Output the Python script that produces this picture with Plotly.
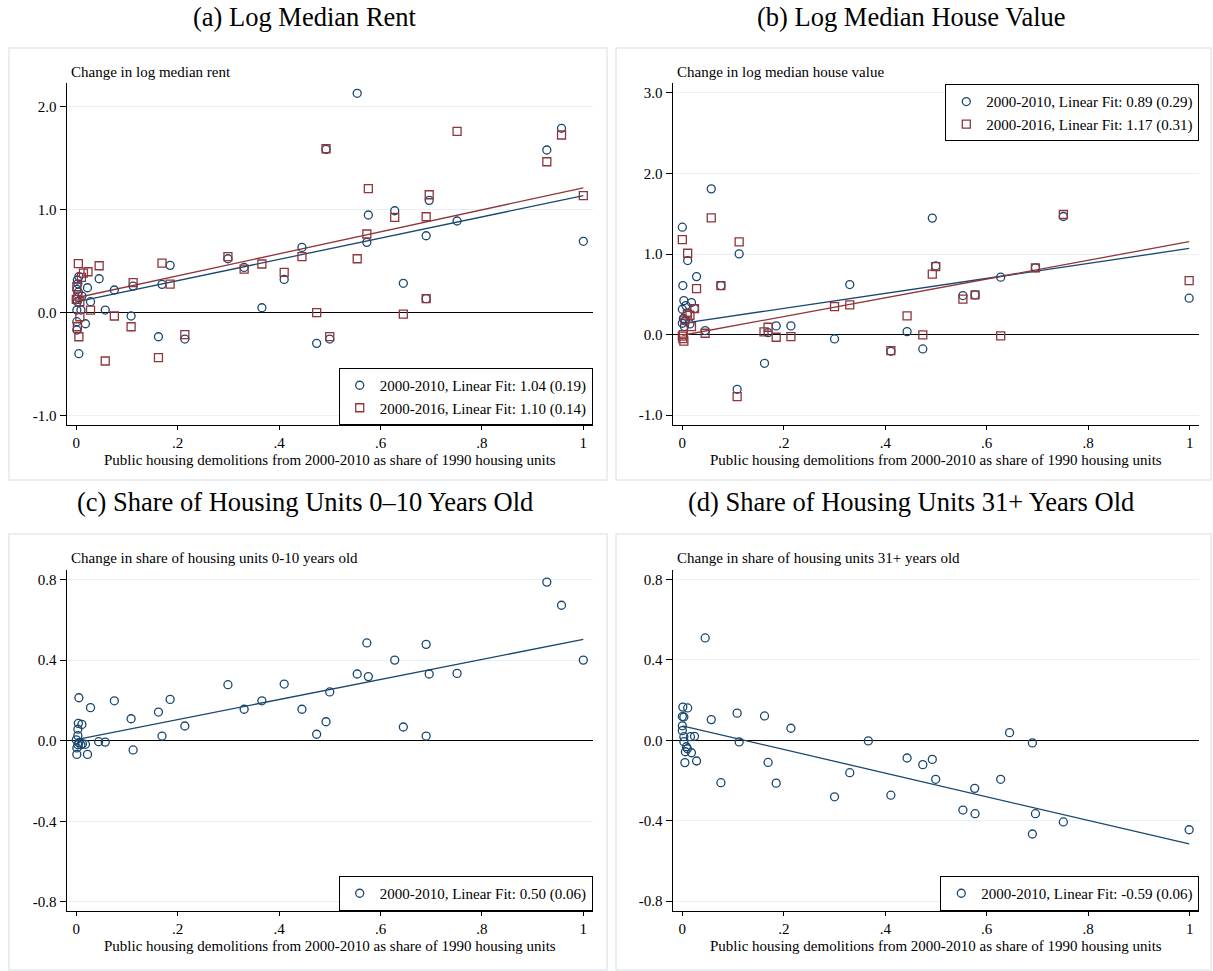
import plotly.graph_objects as go

# ---------------- data ----------------
titles = ["(a) Log Median Rent", "(b) Log Median House Value",
          "(c) Share of Housing Units 0\u201310 Years Old", "(d) Share of Housing Units 31+ Years Old"]
ytitles = ["Change in log median rent", "Change in log median house value",
           "Change in share of housing units 0-10 years old", "Change in share of housing units 31+ years old"]
xtitle = "Public housing demolitions from 2000-2010 as share of 1990 housing units"

x_tickvals = [0, 0.2, 0.4, 0.6, 0.8, 1]
x_ticktext = ["0", ".2", ".4", ".6", ".8", "1"]
ya_tickvals = [-1, 0, 1, 2]
ya_ticktext = ["-1.0", "0.0", "1.0", "2.0"]
yb_tickvals = [-1, 0, 1, 2, 3]
yb_ticktext = ["-1.0", "0.0", "1.0", "2.0", "3.0"]
ycd_tickvals = [-0.8, -0.4, 0, 0.4, 0.8]
ycd_ticktext = ["-0.8", "-0.4", "0.0", "0.4", "0.8"]

# Panel (a): log median rent
x_a10 = [0.005, 0.045, 0.075, 0.057, 0.022, 0.028, 0.018, 0.108, 0.112, 0.162, 0.169, 0.185, 0.214,
         0.299, 0.331, 0.366, 0.41, 0.445, 0.005, 0.002, 0.001, 0.011, 0.002, 0.001, 0.009, 0.001,
         0.001, 0.0, 0.004, 0.003, 0.554, 0.4925, 0.474, 0.4998, 0.576, 0.573, 0.628, 0.645, 0.690,
         0.690, 0.696, 0.751, 0.928, 0.957, 1.0]
y_a10 = [-0.397, 0.329, 0.220, 0.026, 0.242, 0.107, -0.107, -0.032, 0.258, -0.233, 0.275, 0.459, -0.255,
         0.523, 0.439, 0.048, 0.323, 0.633, 0.349, 0.317, 0.226, 0.161, 0.107, 0.026, 0.026, -0.087,
         -0.168, 0.13, 0.20, 0.28, 2.126, 1.583, -0.297, -0.255, 0.947, 0.682, 0.988, 0.285, 0.136,
         0.746, 1.089, 0.889, 1.577, 1.787, 0.692]
x_a16 = [0.004, 0.045, 0.023, 0.014, 0.010, 0.001, 0.0, 0.003, 0.007, 0.028, 0.075, 0.007, 0.002, 0.005,
         0.057, 0.108, 0.112, 0.162, 0.169, 0.185, 0.214, 0.299, 0.331, 0.366, 0.41, 0.445, 0.4925,
         0.474, 0.4998, 0.554, 0.576, 0.573, 0.628, 0.645, 0.690, 0.690, 0.696, 0.751, 0.928, 0.957, 1.0]
y_a16 = [0.475, 0.455, 0.397, 0.384, 0.342, 0.252, 0.13, 0.16, 0.107, 0.026, -0.032, -0.039, -0.136,
         -0.233, -0.468, -0.136, 0.291, -0.436, 0.481, 0.278, -0.213, 0.543, 0.423, 0.472, 0.391, 0.543,
         1.589, 0.0, -0.232, 0.523, 1.202, 0.763, 0.924, -0.013, 0.136, 0.930, 1.143, 1.757, 1.463,
         1.722, 1.134]
fit_a10 = [0.105, 1.135]   # fitted value at x=0 and x=1
fit_a16 = [0.145, 1.210]

# Panel (b): log median house value
x_b10 = [0.0, 0.001, 0.0105, 0.028, 0.003, 0.018, 0.007, 0.0, 0.024, 0.01, 0.0, 0.015, 0.004, 0.045,
         0.057, 0.076, 0.112, 0.108, 0.162, 0.169, 0.185, 0.214, 0.300, 0.330, 0.411, 0.443, 0.4927,
         0.474, 0.4994, 0.553, 0.577, 0.6275, 0.696, 0.751, 0.999, 0.002, 0.006]
y_b10 = [1.333, 0.609, 0.919, 0.720, 0.422, 0.398, 0.360, 0.315, 0.323, 0.265, 0.141, 0.132, 0.10,
         0.05, 1.809, 0.609, 1.002, -0.679, -0.356, 0.025, 0.108, 0.108, -0.054, 0.621, -0.207, 0.037,
         1.446, -0.178, 0.853, 0.485, 0.493, 0.713, 0.829, 1.466, 0.452, 0.2, 0.17]
x_b16 = [0.0, 0.0105, 0.028, 0.024, 0.01, 0.015, 0.018, 0.0, 0.001, 0.003, 0.002, 0.045, 0.057, 0.076,
         0.112, 0.108, 0.161, 0.169, 0.185, 0.214, 0.300, 0.330, 0.411, 0.443, 0.4927, 0.474, 0.4994,
         0.553, 0.577, 0.6275, 0.696, 0.751, 0.999, 0.005]
y_b16 = [1.180, 1.010, 0.571, 0.323, 0.257, 0.240, 0.10, -0.02, -0.05, -0.08, 0.0, 0.017, 1.449, 0.609,
         1.151, -0.770, 0.033, 0.091, -0.033, -0.025, 0.348, 0.369, -0.199, 0.232, 0.750, -0.004, 0.845,
         0.440, 0.493, -0.016, 0.829, 1.491, 0.671, 0.18]
fit_b10 = [0.140, 1.070]
fit_b16 = [-0.008, 1.155]

# Panel (c): share of units 0-10 years old
x_c = [0.005, 0.028, 0.075, 0.108, 0.162, 0.185, 0.169, 0.214, 0.112, 0.044, 0.057, 0.022, 0.001, 0.004,
       0.011, 0.003, 0.003, 0.0, 0.005, 0.009, 0.018, 0.012, 0.001, 0.003, 0.299, 0.331, 0.366, 0.41,
       0.445, 0.474, 0.4925, 0.4998, 0.554, 0.573, 0.576, 0.628, 0.645, 0.690, 0.690, 0.696, 0.751,
       0.928, 0.957, 1.0]
y_c = [0.213, 0.164, 0.198, 0.109, 0.142, 0.205, 0.023, 0.073, -0.046, -0.005, -0.007, -0.068, -0.068,
       0.086, 0.081, 0.057, 0.025, 0.004, -0.01, -0.02, -0.018, -0.015, -0.036, -0.02, 0.278, 0.156,
       0.198, 0.281, 0.156, 0.032, 0.094, 0.242, 0.331, 0.485, 0.318, 0.400, 0.068, 0.478, 0.023,
       0.331, 0.334, 0.787, 0.672, 0.400]
fit_c = [0.005, 0.503]

# Panel (d): share of units 31+ years old
x_d = [0.045, 0.001, 0.0105, 0.0, 0.003, 0.057, 0.108, 0.162, 0.214, 0.0, 0.0, 0.016, 0.024, 0.003,
       0.003, 0.112, 0.008, 0.01, 0.006, 0.018, 0.005, 0.028, 0.169, 0.076, 0.185, 0.300, 0.330,
       0.3666, 0.411, 0.443, 0.474, 0.4927, 0.4994, 0.553, 0.5763, 0.577, 0.6275, 0.645, 0.690,
       0.696, 0.690, 0.751, 0.999]
y_d = [0.509, 0.165, 0.161, 0.118, 0.116, 0.103, 0.135, 0.121, 0.06, 0.072, 0.048, 0.018, 0.02, 0.018,
       -0.007, -0.008, -0.032, -0.042, -0.057, -0.062, -0.111, -0.103, -0.110, -0.211, -0.213, -0.281,
       -0.161, -0.003, -0.273, -0.088, -0.121, -0.095, -0.194, -0.347, -0.239, -0.365, -0.194, 0.038,
       -0.013, -0.365, -0.466, -0.406, -0.445]
fit_d = [0.072, -0.516]

leg_a = ["2000-2010, Linear Fit: 1.04 (0.19)", "2000-2016, Linear Fit: 1.10 (0.14)"]
leg_b = ["2000-2010, Linear Fit: 0.89 (0.29)", "2000-2016, Linear Fit: 1.17 (0.31)"]
leg_c = ["2000-2010, Linear Fit: 0.50 (0.06)"]
leg_d = ["2000-2010, Linear Fit: -0.59 (0.06)"]

# ---------------- styling / layout ----------------
W, H = 1213, 971
NAVY = "#1a476f"
MAROON = "#90353b"
GRID = "#e9f0f2"
FRAME = "#e2eaed"
FONT = "Liberation Serif, Times New Roman, serif"

def fx(p):
    return p / W

def fy(p):
    return 1 - p / H

# plot-area pixel boxes (left, right, top, bottom)
boxes = [(66.7, 592.7, 83, 425), (672.7, 1199.3, 83, 425),
         (66.7, 592.7, 570, 911), (672.7, 1199.3, 570, 911)]
xranges = [[-0.019, 1.0185], [-0.019, 1.019], [-0.019, 1.0185], [-0.019, 1.019]]
yranges = [[-1.088, 2.226], [-1.122, 3.123], [-0.845, 0.847], [-0.849, 0.847]]
yticks = [(ya_tickvals, ya_ticktext), (yb_tickvals, yb_ticktext),
          (ycd_tickvals, ycd_ticktext), (ycd_tickvals, ycd_ticktext)]

fig = go.Figure()

series = [
    [(x_a10, y_a10, fit_a10, leg_a[0], "circle-open", NAVY),
     (x_a16, y_a16, fit_a16, leg_a[1], "square-open", MAROON)],
    [(x_b10, y_b10, fit_b10, leg_b[0], "circle-open", NAVY),
     (x_b16, y_b16, fit_b16, leg_b[1], "square-open", MAROON)],
    [(x_c, y_c, fit_c, leg_c[0], "circle-open", NAVY)],
    [(x_d, y_d, fit_d, leg_d[0], "circle-open", NAVY)],
]
legend_names = ["legend", "legend2", "legend3", "legend4"]

for i, panel in enumerate(series):
    xa = "x" if i == 0 else f"x{i+1}"
    ya = "y" if i == 0 else f"y{i+1}"
    # fit lines first (under markers)
    for (xs, ys, fit, name, sym, col) in panel:
        xmin, xmax = min(xs), max(xs)
        fig.add_trace(go.Scatter(
            x=[xmin, xmax], y=[fit[0] + (fit[1] - fit[0]) * xmin, fit[0] + (fit[1] - fit[0]) * xmax],
            mode="lines", line=dict(color=col, width=1.3), showlegend=False,
            xaxis=xa, yaxis=ya, hoverinfo="skip"))
    for (xs, ys, fit, name, sym, col) in panel:
        fig.add_trace(go.Scatter(
            x=xs, y=ys, mode="markers", name=name,
            marker=dict(symbol=sym, size=8, color=col, line=dict(color=col, width=1.3)),
            xaxis=xa, yaxis=ya, legend=legend_names[i]))

layout = dict(
    width=W, height=H, margin=dict(l=0, r=0, t=0, b=0),
    paper_bgcolor="white", plot_bgcolor="white",
    font=dict(family=FONT, size=15, color="black"),
)

for i in range(4):
    l, r, t, b = boxes[i]
    xkey = "xaxis" if i == 0 else f"xaxis{i+1}"
    ykey = "yaxis" if i == 0 else f"yaxis{i+1}"
    xa = "x" if i == 0 else f"x{i+1}"
    ya = "y" if i == 0 else f"y{i+1}"
    layout[xkey] = dict(
        domain=[fx(l), fx(r)], anchor=ya, range=xranges[i],
        tickvals=x_tickvals, ticktext=x_ticktext, ticks="outside", ticklen=4,
        tickcolor="black", tickwidth=1, showline=True, linecolor="black", linewidth=1.3,
        showgrid=False, zeroline=False, tickfont=dict(size=15, family=FONT, color="black"))
    layout[ykey] = dict(
        domain=[fy(b), fy(t)], anchor=xa, range=yranges[i],
        tickvals=yticks[i][0], ticktext=yticks[i][1], ticks="outside", ticklen=6,
        tickcolor="black", tickwidth=1, showline=True, linecolor="black", linewidth=1.3,
        showgrid=True, gridcolor=GRID, gridwidth=1,
        zeroline=True, zerolinecolor="black", zerolinewidth=1.3,
        tickfont=dict(size=15, family=FONT, color="black"))

legend_pos = [
    dict(x=fx(592.7), y=fy(425), xanchor="right", yanchor="bottom"),
    dict(x=fx(1199.3), y=fy(84.3), xanchor="right", yanchor="top"),
    dict(x=fx(592.7), y=fy(911), xanchor="right", yanchor="bottom"),
    dict(x=fx(1199.3), y=fy(911), xanchor="right", yanchor="bottom"),
]
for i, name in enumerate(legend_names):
    d = dict(legend_pos[i])
    d.update(bgcolor="white", bordercolor="black", borderwidth=1,
             font=dict(family=FONT, size=15, color="black"), itemwidth=30,
             tracegroupgap=0)
    layout[name] = d

annotations = []
title_pos = [(305, 17), (911, 17), (305, 501.5), (911, 501.5)]
for i in range(4):
    annotations.append(dict(text=titles[i], x=fx(title_pos[i][0]), y=fy(title_pos[i][1]),
                            xref="paper", yref="paper", xanchor="center", yanchor="middle",
                            showarrow=False, font=dict(family=FONT, size=26.5, color="black")))
ytitle_pos = [(69, 72.3), (675, 72.3), (69, 558.3), (675, 558.3)]
for i in range(4):
    annotations.append(dict(text=ytitles[i], x=fx(ytitle_pos[i][0]), y=fy(ytitle_pos[i][1]),
                            xref="paper", yref="paper", xanchor="left", yanchor="middle",
                            showarrow=False, font=dict(family=FONT, size=15, color="black")))
xtitle_pos = [(329.7, 459.5), (936, 459.5), (329.7, 946), (936, 946)]
for i in range(4):
    annotations.append(dict(text=xtitle, x=fx(xtitle_pos[i][0]), y=fy(xtitle_pos[i][1]),
                            xref="paper", yref="paper", xanchor="center", yanchor="middle",
                            showarrow=False, font=dict(family=FONT, size=15, color="black")))
layout["annotations"] = annotations

frames = [(9, 607, 48, 480), (616, 1211, 48, 480), (9, 607, 534, 970), (616, 1211, 534, 970)]
shapes = []
for (l, r, t, b) in frames:
    shapes.append(dict(type="rect", xref="paper", yref="paper", x0=fx(l), x1=fx(r), y0=fy(b), y1=fy(t),
                       line=dict(color=FRAME, width=1.5), fillcolor="rgba(0,0,0,0)", layer="below"))
layout["shapes"] = shapes

fig.update_layout(**layout)
fig.write_html("out.html")
